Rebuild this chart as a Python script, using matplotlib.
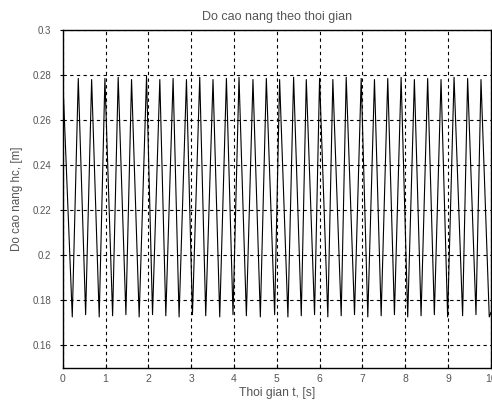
import matplotlib
matplotlib.use("Agg")
import matplotlib.pyplot as plt
from matplotlib.ticker import FormatStrFormatter

plt.rcParams['font.family'] = ['Liberation Sans', 'DejaVu Sans']

# peak / trough times, in seconds
t_peak = [0.0, 0.364, 0.676, 0.986, 1.296, 1.608, 1.958, 2.268, 2.578, 2.890,
          3.200, 3.510, 3.823, 4.117, 4.443, 4.755, 5.065, 5.392, 5.688, 5.998,
          6.308, 6.620, 6.970, 7.280, 7.590, 7.902, 8.212, 8.522, 8.834, 9.138,
          9.455, 9.767]
h_peak = [0.2795, 0.2785, 0.2780, 0.2785, 0.2790, 0.2780, 0.2795, 0.2780, 0.2785, 0.2780,
          0.2790, 0.2780, 0.2785, 0.2790, 0.2780, 0.2785, 0.2780, 0.2790, 0.2780, 0.2785,
          0.2780, 0.2790, 0.2785, 0.2780, 0.2785, 0.2790, 0.2780, 0.2785, 0.2780, 0.2790,
          0.2785, 0.2780]
t_trough = [0.224, 0.536, 0.853, 1.166, 1.476, 1.786, 2.098, 2.408, 2.718, 3.030,
            3.340, 3.667, 3.977, 4.289, 4.615, 4.949, 5.259, 5.571, 5.881, 6.191,
            6.503, 6.814, 7.124, 7.436, 7.746, 8.056, 8.368, 8.678, 8.988, 9.338,
            9.650, 9.960]
h_trough = [0.1725, 0.1735, 0.1725, 0.1730, 0.1735, 0.1725, 0.1735, 0.1730, 0.1725, 0.1735,
            0.1730, 0.1725, 0.1735, 0.1730, 0.1725, 0.1735, 0.1725, 0.1730, 0.1735, 0.1725,
            0.1730, 0.1735, 0.1725, 0.1730, 0.1735, 0.1725, 0.1730, 0.1735, 0.1725, 0.1730,
            0.1735, 0.1725]
t_end = 10.0
h_end = 0.1745

# merge peaks and troughs in time order
t = []
h = []
for tp, hp, tt, ht in zip(t_peak, h_peak, t_trough, h_trough):
    t += [tp, tt]
    h += [hp, ht]
t.append(t_end)
h.append(h_end)

x_ticks = list(range(0, 11))
y_ticks = [0.16, 0.18, 0.20, 0.22, 0.24, 0.26, 0.28, 0.30]

fig = plt.figure(figsize=(4.92, 4.01), dpi=100)
ax = fig.add_axes([0.1274, 0.0835, 0.8705, 0.8416])

ax.plot(t, h, color="black", linewidth=0.8)

ax.set_xlim(0, 10)
ax.set_ylim(0.15, 0.3)
ax.set_xticks(x_ticks)
ax.set_yticks(y_ticks)
ax.yaxis.set_major_formatter(FormatStrFormatter("%g"))
ax.grid(True, color="black", linestyle=(0, (3, 3)), linewidth=0.8)

txt = "#555555"
ax.tick_params(axis="x", direction="in", length=3, width=0.8, pad=5,
               labelsize=7.5, labelcolor=txt)
ax.tick_params(axis="y", direction="out", length=2.2, width=0.8, pad=6,
               labelsize=7, labelcolor=txt)
for s in ax.spines.values():
    s.set_linewidth(1.0)

ax.set_title("Do cao nang theo thoi gian", fontsize=9, color=txt, pad=7)
ax.set_xlabel("Thoi gian t, [s]", fontsize=8.7, color=txt, labelpad=2)
ax.set_ylabel("Do cao nang hc, [m]", fontsize=8.4, color=txt, labelpad=7)

fig.savefig("out.png", dpi=100)
